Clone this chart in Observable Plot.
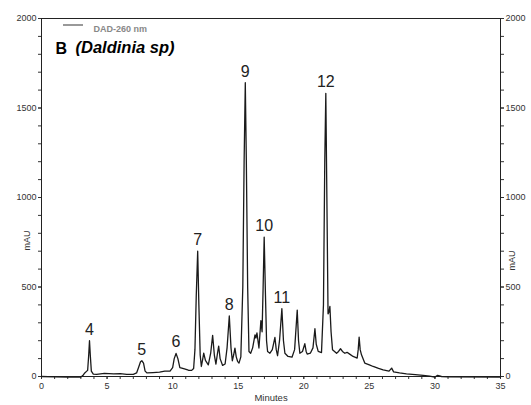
<!DOCTYPE html>
<html>
<head>
<meta charset="utf-8">
<script src="https://cdn.jsdelivr.net/npm/d3@7"></script>
<script src="https://cdn.jsdelivr.net/npm/@observablehq/plot@0.6"></script>
<style>
  html, body { margin: 0; padding: 0; background: #fff; }
  #chart { width: 531px; height: 405px; }
</style>
</head>
<body>
<div id="chart"></div>
<script>
// Chromatogram trace (retention time in minutes, absorbance in mAU)
const times = [0, 1, 2, 3.0, 3.15, 3.3, 3.45, 3.52, 3.6, 3.66, 3.72, 3.8, 3.95, 4.2, 4.8, 5.5, 6.0, 6.5, 7.0, 7.25, 7.4, 7.55, 7.65, 7.78, 7.9, 8.05, 8.5, 9.0, 9.4, 9.8, 10.0, 10.12, 10.26, 10.4, 10.55, 10.7, 10.9, 11.2, 11.45, 11.6, 11.7, 11.8, 11.91, 12.0, 12.1, 12.19, 12.3, 12.37, 12.5, 12.72, 12.9, 13.05, 13.18, 13.3, 13.42, 13.51, 13.62, 13.81, 14.0, 14.15, 14.32, 14.45, 14.55, 14.65, 14.75, 14.85, 14.95, 15.06, 15.2, 15.35, 15.45, 15.54, 15.62, 15.72, 15.82, 15.95, 16.1, 16.28, 16.35, 16.43, 16.58, 16.73, 16.82, 16.9, 16.98, 17.08, 17.16, 17.24, 17.42, 17.6, 17.8, 17.9, 18.0, 18.15, 18.33, 18.45, 18.56, 18.8, 19.1, 19.3, 19.5, 19.6, 19.7, 19.9, 20.08, 20.18, 20.26, 20.5, 20.7, 20.85, 20.95, 21.1, 21.35, 21.5, 21.6, 21.68, 21.76, 21.85, 21.92, 21.99, 22.08, 22.19, 22.5, 22.65, 22.8, 22.95, 23.13, 23.3, 23.5, 23.76, 24.07, 24.15, 24.22, 24.3, 24.4, 24.65, 25.0, 25.29, 25.7, 26.05, 26.5, 26.7, 26.85, 27.3, 27.83, 28.5, 29.1, 29.6, 29.98, 30.2, 30.5, 31, 35];
const mAU = [0, -2, -3, -3, 5, 20, 30, 35, 120, 200, 120, 30, 13, 12, 18, 15, 16, 12, 12, 20, 50, 82, 88, 75, 30, 20, 22, 25, 30, 30, 50, 100, 129, 100, 50, 47, 42, 35, 34, 45, 150, 450, 700, 400, 120, 56, 100, 131, 90, 65, 130, 230, 120, 69, 130, 170, 100, 62, 70, 160, 338, 160, 88, 120, 159, 110, 85, 75, 110, 500, 1200, 1641, 1200, 500, 140, 130, 160, 233, 215, 243, 159, 312, 250, 500, 779, 450, 200, 140, 130, 150, 218, 150, 116, 200, 379, 200, 130, 112, 108, 150, 371, 200, 130, 140, 183, 140, 125, 130, 160, 267, 180, 140, 134, 400, 1200, 1582, 1000, 350, 360, 392, 250, 150, 130, 140, 155, 140, 130, 135, 125, 112, 103, 150, 220, 150, 121, 75, 65, 56, 45, 37, 30, 47, 26, 20, 15, 10, 6, 2, -4, 6, 0, -2, -3];

// Peak annotations
const peakNames = ["4", "5", "6", "7", "8", "9", "10", "11", "12"];
const peakTimes = [3.66, 7.65, 10.26, 11.91, 14.32, 15.54, 16.98, 18.33, 21.68];
const peakTops  = [200, 88, 129, 700, 338, 1641, 779, 379, 1582];

// Axis ticks
const yMajor = [0, 500, 1000, 1500, 2000];
const yMinor = d3.range(0, 2001, 100);
const xMajor = [0, 5, 10, 15, 20, 25, 30, 35];
const xMinor = d3.range(0, 36, 1);

const trace = times.map((t, i) => ({t, v: mAU[i]}));
const peaks = peakNames.map((n, i) => ({n, t: peakTimes[i], v: peakTops[i]}));

const mL = 41, mR = 31, mT = 18, mB = 29;
const tickColor = "#333";

const chart = Plot.plot({
  width: 531,
  height: 405,
  marginLeft: mL, marginRight: mR, marginTop: mT, marginBottom: mB,
  style: {fontFamily: "'Liberation Sans', Arial, sans-serif", fontSize: "9px", color: tickColor, background: "#fff"},
  x: {domain: [0, 35]},
  y: {domain: [0, 2000]},
  marks: [
    Plot.axisY({anchor: "left", ticks: yMinor, tickFormat: () => "", tickSize: 3, label: null}),
    Plot.axisY({anchor: "left", ticks: yMajor, tickSize: 3, tickPadding: 2, tickFormat: d => String(d), label: null}),
    Plot.axisY({anchor: "right", ticks: yMinor, tickFormat: () => "", tickSize: 3, label: null}),
    Plot.axisY({anchor: "right", ticks: yMajor, tickSize: 3, tickPadding: 2, tickFormat: d => String(d), label: null}),
    Plot.axisX({anchor: "bottom", ticks: xMinor, tickFormat: () => "", tickSize: 3, label: null}),
    Plot.axisX({anchor: "bottom", ticks: xMajor, tickSize: 3, tickPadding: 3, tickFormat: d => String(d), label: null}),
    Plot.frame({stroke: "#222", strokeWidth: 1}),
    Plot.line(trace, {x: "t", y: "v", stroke: "#1a1a1a", strokeWidth: 1.3}),
    Plot.text(peaks, {x: "t", y: "v", text: "n", dy: -6, lineAnchor: "bottom", fontSize: 16, fill: "#222"}),
    Plot.text(["Minutes"], {frameAnchor: "bottom", dy: 24, fontSize: 9.5, fill: "#333"}),
    Plot.text(["mAU"], {frameAnchor: "left", dx: -14, dy: 53, rotate: -90, fontSize: 9, fill: "#333"}),
    Plot.text(["mAU"], {frameAnchor: "right", dx: 12, dy: 53, rotate: -90, fontSize: 9, fill: "#333"}),
    Plot.text(["B"], {frameAnchor: "top-left", dx: 14, dy: 24, textAnchor: "start", fontSize: 16, fontWeight: "bold", fill: "#000"}),
    Plot.text(["(Daldinia sp)"], {frameAnchor: "top-left", dx: 34, dy: 23, textAnchor: "start", fontSize: 16.5, fontWeight: "bold", fontStyle: "italic", fill: "#000"}),
    Plot.text(["DAD-260 nm"], {frameAnchor: "top-left", dx: 52, dy: 7, textAnchor: "start", fontSize: 9, fontWeight: "bold", fill: "#888"})
  ]
});

// legend swatch
d3.select(chart).append("line")
  .attr("x1", mL + 22).attr("x2", mL + 42)
  .attr("y1", mT + 7).attr("y2", mT + 7)
  .attr("stroke", "#777").attr("stroke-width", 1.5);

document.getElementById("chart").appendChild(chart);
</script>
</body>
</html>
